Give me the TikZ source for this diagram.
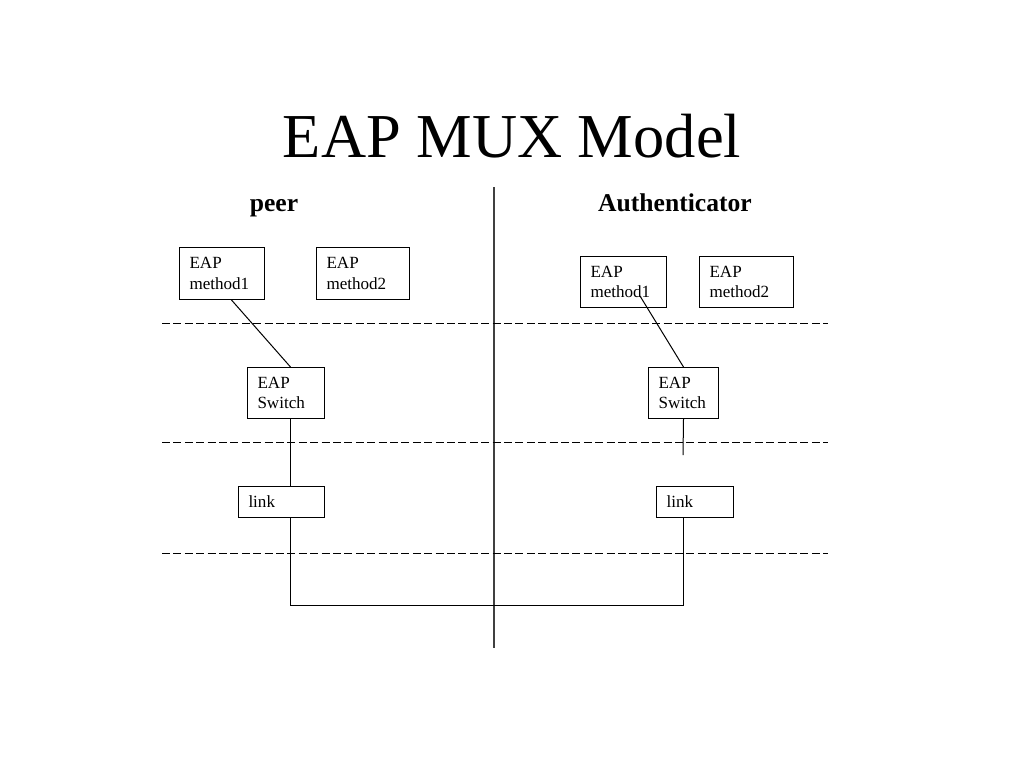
\documentclass[tikz,border=0pt]{standalone}
\usepackage{fontspec}
\setmainfont{Liberation Serif}
\usetikzlibrary{calc}
\tikzset{
  box/.style={draw=black, line width=1pt, align=left, anchor=north west, inner xsep=0pt, inner ysep=0pt,
    font=\fontsize{17.07}{20.5}\selectfont},
  conn/.style={draw=black, line width=1pt},
  layer/.style={draw=black, line width=1pt, dash pattern=on 8pt off 3.4pt},
  divider/.style={draw=black!75, line width=1.3pt},
  side/.style={font=\fontsize{25.6}{30}\selectfont\bfseries, anchor=base},
}
\newcommand{\mybox}[6]{%
  \pgfmathsetmacro\bxw{#4-#2}%
  \pgfmathsetmacro\bxh{#5-#3}%
  \pgfmathsetmacro\bxt{#4-#2-20}%
  \node[box, minimum width=\bxw pt, minimum height=\bxh pt, text width=\bxt pt]
    (#1) at (#2,#3) {#6};}
\begin{document}
\begin{tikzpicture}[x=1pt,y=-1pt]
\useasboundingbox (0,0) rectangle (1024,768);
% title
\node[font=\fontsize{62.5}{70}\selectfont, anchor=base] (title) at (512,157) {EAP MUX Model};
\node[side] (peer) at (274,211) {peer};
\node[side] (auth) at (675,211) {Authenticator};
% divider
\coordinate (dtop) at (494,187);
\coordinate (dbot) at (494,648);
\draw[divider] (dtop) -- (dbot);
% dashed layer lines
\coordinate (l1a) at (162,323); \coordinate (l1b) at (828,323);
\coordinate (l2a) at (162,442); \coordinate (l2b) at (828,442);
\coordinate (l3a) at (162,553); \coordinate (l3b) at (828,553);
\draw[layer] (l1a) -- (l1b);
\draw[layer] (l2a) -- (l2b);
\draw[layer] (l3a) -- (l3b);
% boxes
\mybox{m1L}{179}{247}{264}{299}{EAP\\method1}
\mybox{m2L}{316}{247}{409}{299}{EAP\\method2}
\mybox{swL}{247}{367}{324}{418}{EAP\\Switch}
\mybox{lkL}{238}{486}{324}{517}{link}
\mybox{m1R}{580}{256}{666}{307}{EAP\\method1}
\mybox{m2R}{699}{256}{793}{307}{EAP\\method2}
\mybox{swR}{648}{367}{718}{418}{EAP\\Switch}
\mybox{lkR}{656}{486}{733}{517}{link}
% connectors
\draw[conn] ([xshift=9.5pt]m1L.south) -- ([xshift=4.5pt]swL.north);
\draw[conn] ([xshift=4.5pt]swL.south) -- ([xshift=9pt]lkL.north);
\coordinate (bot) at (0,605);
\coordinate (pa) at ([xshift=9pt]lkL.south);
\coordinate (pb) at ([xshift=-11.5pt]lkR.south);
\draw[conn] (pa) -- (pa |- bot) -- (pb |- bot) -- (pb);
\coordinate (r1) at (640,296);
\coordinate (r2) at (683,455);
\draw[conn] (r1) -- (swR.north);
\draw[conn] (swR.south) -- (r2);
\end{tikzpicture}
\end{document}
